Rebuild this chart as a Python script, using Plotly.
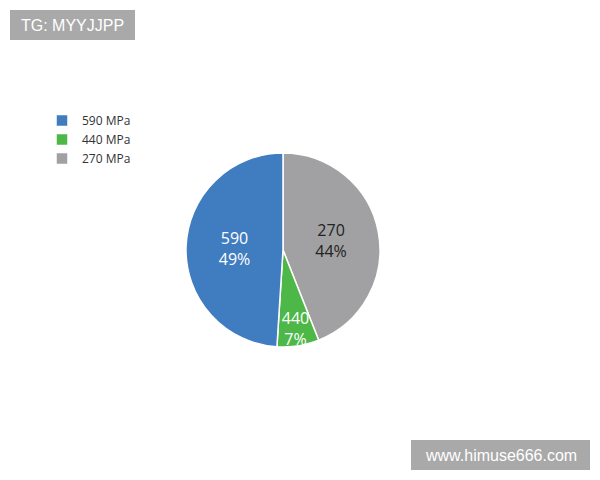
import plotly.graph_objects as go

# listed in the order the slices run clockwise from 12 o'clock
labels = ["270 MPa", "440 MPa", "590 MPa"]
short_labels = ["270", "440", "590"]
shares = [44, 7, 49]
colors = ["#a1a1a3", "#4db848", "#3f7cc0"]
text_colors = ["#222222", "white", "white"]

# page body has an 8px margin, so the figure is laid out in page coords minus 8
W, H, OFF = 584, 464, 8


def px(x):
    return (x - OFF) / W


def py(y):
    return 1 - (y - OFF) / H


fig = go.Figure(
    go.Pie(
        labels=labels,
        values=shares,
        customdata=short_labels,
        texttemplate="%{customdata}<br>%{percent:.0%}",
        textposition="inside",
        insidetextorientation="horizontal",
        textfont=dict(size=16, color=text_colors, family="Open Sans"),
        marker=dict(colors=colors, line=dict(color="white", width=1.5)),
        sort=False,
        direction="clockwise",
        rotation=0,
        hoverinfo="label+percent",
        domain=dict(x=[px(186), px(380)], y=[py(347), py(153)]),
    )
)

fig.update_layout(
    width=W,
    height=H,
    paper_bgcolor="white",
    plot_bgcolor="white",
    margin=dict(t=0, b=0, l=0, r=0),
    font=dict(family="Open Sans", color="#333333"),
    uniformtext=dict(minsize=16, mode="show"),
    legend=dict(
        x=px(42), y=py(106), xanchor="left", yanchor="top",
        font=dict(size=12, color="#333333"),
        tracegroupgap=0, traceorder="reversed",
    ),
    shapes=[
        dict(type="rect", xref="paper", yref="paper", x0=px(10), x1=px(135),
             y0=py(40), y1=py(10), fillcolor="#a9a9a9", line=dict(width=0)),
        dict(type="rect", xref="paper", yref="paper", x0=px(411), x1=px(590),
             y0=py(470), y1=py(440), fillcolor="#a9a9a9", line=dict(width=0)),
    ],
    annotations=[
        dict(text="TG: MYYJJPP", xref="paper", yref="paper", x=px(72.5), y=py(25),
             xanchor="center", yanchor="middle", showarrow=False,
             font=dict(size=16, color="white", family="Liberation Sans")),
        dict(text="www.himuse666.com", xref="paper", yref="paper", x=px(500.5), y=py(455),
             xanchor="center", yanchor="middle", showarrow=False,
             font=dict(size=16, color="white", family="Liberation Sans")),
    ],
)

fig.write_html("out.html")
